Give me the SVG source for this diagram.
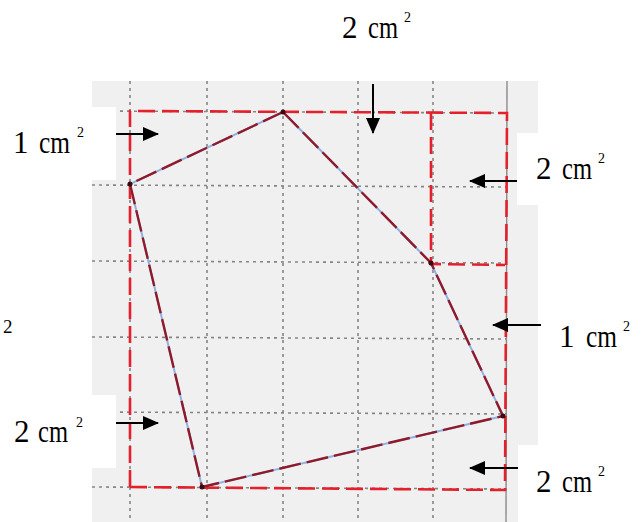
<svg xmlns="http://www.w3.org/2000/svg" width="643" height="522" viewBox="0 0 643 522">
<style>
.grid{stroke:#858585;stroke-width:1.6;stroke-dasharray:3 4;fill:none}
.red{stroke:#e3202c;stroke-width:2.6;stroke-dasharray:17 7;fill:none}
.blue{stroke:#8fb1e3;stroke-width:2;fill:none}
.poly{stroke:#8e1a2c;stroke-width:2.4;stroke-dasharray:22 6;fill:none}
.arr{stroke:#000;stroke-width:2;fill:none;marker-end:url(#ah)}
.t{font-family:"Liberation Serif","Times New Roman",serif;fill:#000;font-size:31px}
.s{font-size:14px}
.st{font-size:19px}
</style>
<defs>
<marker id="ah" markerUnits="userSpaceOnUse" markerWidth="16" markerHeight="14" refX="15" refY="7" orient="auto">
<path d="M0,0 L16,7 L0,14 Z" fill="#000"/>
</marker>
</defs>
<rect width="643" height="522" fill="#fff"/>
<g id="paper">
<rect x="92" y="81" width="446" height="441" fill="#f0f0f0"/>
<g id="grid">
<line class="grid" x1="130" y1="81" x2="130" y2="522"/>
<line class="grid" x1="207" y1="81" x2="207" y2="522"/>
<line class="grid" x1="283" y1="81" x2="283" y2="522"/>
<line class="grid" x1="358" y1="81" x2="358" y2="522"/>
<line class="grid" x1="433" y1="81" x2="433" y2="522"/>
<line class="grid" x1="92" y1="111" x2="507" y2="113"/>
<line class="grid" x1="92" y1="185" x2="507" y2="187"/>
<line class="grid" x1="92" y1="261" x2="507" y2="263"/>
<line class="grid" x1="92" y1="337" x2="507" y2="339"/>
<line class="grid" x1="92" y1="412" x2="507" y2="414"/>
<line class="grid" x1="92" y1="487" x2="507" y2="489"/>
<line x1="507" y1="81" x2="506" y2="522" stroke="#8a8a8a" stroke-width="1.4"/>
</g>
<g id="rectangle">
<path class="red" d="M130,487 L130,111 L507,113 L505,490 L130,487"/>
<path class="red" d="M431,113 L431,264 L505,265"/>
</g>
<g id="quadrilateral">
<path class="blue" d="M283,112 L130,184 L202,487 L503,416 L431,263 Z"/>
<path class="poly" d="M283,112 L130,184 L202,487 L503,416 L431,263 Z"/>
<g fill="#3a0a10">
<circle cx="283" cy="112" r="2.5"/>
<circle cx="130" cy="184" r="2.5"/>
<circle cx="202" cy="487" r="2.5"/>
<circle cx="503" cy="416" r="2.5"/>
<circle cx="431" cy="263" r="2.5"/>
</g>
</g>
</g>
<g id="label-boxes" fill="#fff">
<rect x="0" y="107" width="116" height="73"/>
<rect x="0" y="395" width="116" height="73"/>
<rect x="517" y="133" width="126" height="72"/>
<rect x="518" y="445" width="125" height="77"/>
</g>
<g id="connectors">
<line class="arr" x1="373" y1="84" x2="373" y2="133"/>
<line class="arr" x1="116" y1="134" x2="158" y2="134"/>
<line class="arr" x1="517" y1="181" x2="470" y2="181"/>
<line class="arr" x1="541" y1="325" x2="493" y2="325"/>
<line class="arr" x1="116" y1="423" x2="158" y2="423"/>
<line class="arr" x1="518" y1="468" x2="470" y2="468"/>
</g>
<g id="label-top">
<text class="t" x="342" y="38">2<tspan x="368" textLength="30" lengthAdjust="spacingAndGlyphs">cm</tspan><tspan class="s" x="404" dy="-16">2</tspan></text>
</g>
<g id="label-left-1">
<text class="t" x="13" y="153">1<tspan x="39" textLength="31" lengthAdjust="spacingAndGlyphs">cm</tspan><tspan class="s" x="77" dy="-16">2</tspan></text>
</g>
<g id="label-right-2a">
<text class="t" x="536" y="179">2<tspan x="562" textLength="30" lengthAdjust="spacingAndGlyphs">cm</tspan><tspan class="s" x="598" dy="-16">2</tspan></text>
</g>
<g id="label-right-1">
<text class="t" x="559" y="347">1<tspan x="586" textLength="31" lengthAdjust="spacingAndGlyphs">cm</tspan><tspan class="s" x="623" dy="-16">2</tspan></text>
</g>
<g id="label-left-2">
<text class="t" x="14" y="442">2<tspan x="38" textLength="30" lengthAdjust="spacingAndGlyphs">cm</tspan><tspan class="s" x="76" dy="-15">2</tspan></text>
</g>
<g id="label-right-2b">
<text class="t" x="536" y="492">2<tspan x="562" textLength="30" lengthAdjust="spacingAndGlyphs">cm</tspan><tspan class="s" x="598" dy="-16">2</tspan></text>
</g>
<g id="stray">
<text class="t st" x="3" y="333">2</text>
</g>
</svg>
